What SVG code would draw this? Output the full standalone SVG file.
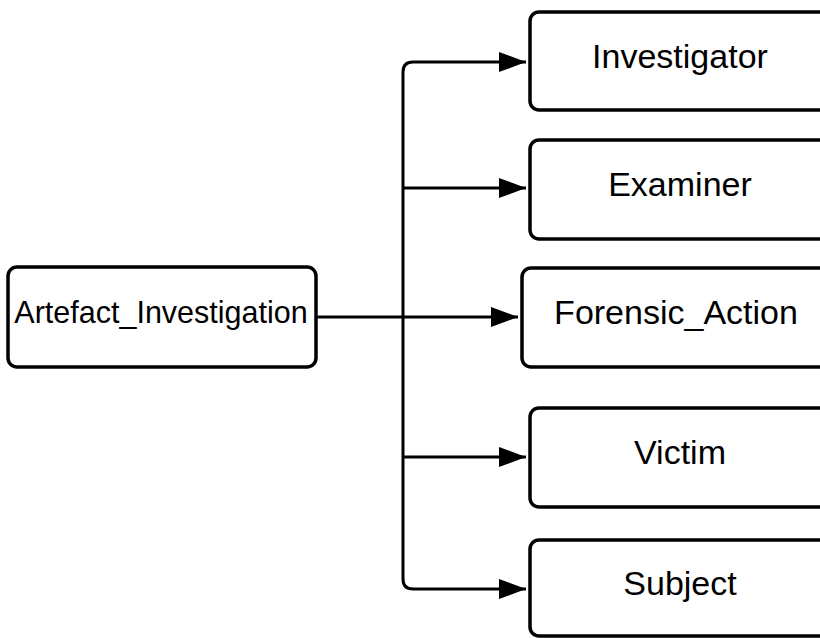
<svg xmlns="http://www.w3.org/2000/svg" width="820" height="638" viewBox="0 0 820 638">
  <style>
    .box { fill: #ffffff; stroke: #000000; stroke-width: 3.5; }
    .lbl { font-family: "Liberation Sans", Arial, sans-serif; fill: #000000; text-anchor: middle; }
    .edge { fill: none; stroke: #000000; stroke-width: 3; stroke-linejoin: round; }
  </style>
  <defs>
    <marker id="arrow" markerUnits="userSpaceOnUse" markerWidth="28" markerHeight="22" refX="27" refY="10" orient="auto">
      <path d="M0,0 L27,10 L0,20 Z" fill="#000000"/>
    </marker>
  </defs>
  <rect width="820" height="638" fill="#ffffff"/>

  <g id="connectors">
    <path class="edge" d="M316,317 L518,317" marker-end="url(#arrow)"/>
    <path class="edge" d="M403,317 L403,72 Q403,62 413,62 L526,62" marker-end="url(#arrow)"/>
    <path class="edge" d="M403,188 L526,188" marker-end="url(#arrow)"/>
    <path class="edge" d="M403,457 L526,457" marker-end="url(#arrow)"/>
    <path class="edge" d="M403,317 L403,579 Q403,589 413,589 L526,589" marker-end="url(#arrow)"/>
  </g>

  <g id="artefact-investigation">
    <rect class="box" x="8" y="267" width="308" height="100" rx="9"/>
    <text class="lbl" x="161" y="323" font-size="30.5">Artefact_Investigation</text>
  </g>
  <g id="investigator">
    <rect class="box" x="530" y="12" width="300" height="98" rx="9"/>
    <text class="lbl" x="680" y="68" font-size="34">Investigator</text>
  </g>
  <g id="examiner">
    <rect class="box" x="530" y="140" width="300" height="99" rx="9"/>
    <text class="lbl" x="680" y="196" font-size="34">Examiner</text>
  </g>
  <g id="forensic-action">
    <rect class="box" x="522" y="268" width="308" height="99" rx="9"/>
    <text class="lbl" x="676" y="324" font-size="34">Forensic_Action</text>
  </g>
  <g id="victim">
    <rect class="box" x="530" y="408" width="300" height="99" rx="9"/>
    <text class="lbl" x="680" y="464" font-size="34">Victim</text>
  </g>
  <g id="subject">
    <rect class="box" x="530" y="540" width="300" height="96" rx="9"/>
    <text class="lbl" x="680" y="595" font-size="34">Subject</text>
  </g>
</svg>
